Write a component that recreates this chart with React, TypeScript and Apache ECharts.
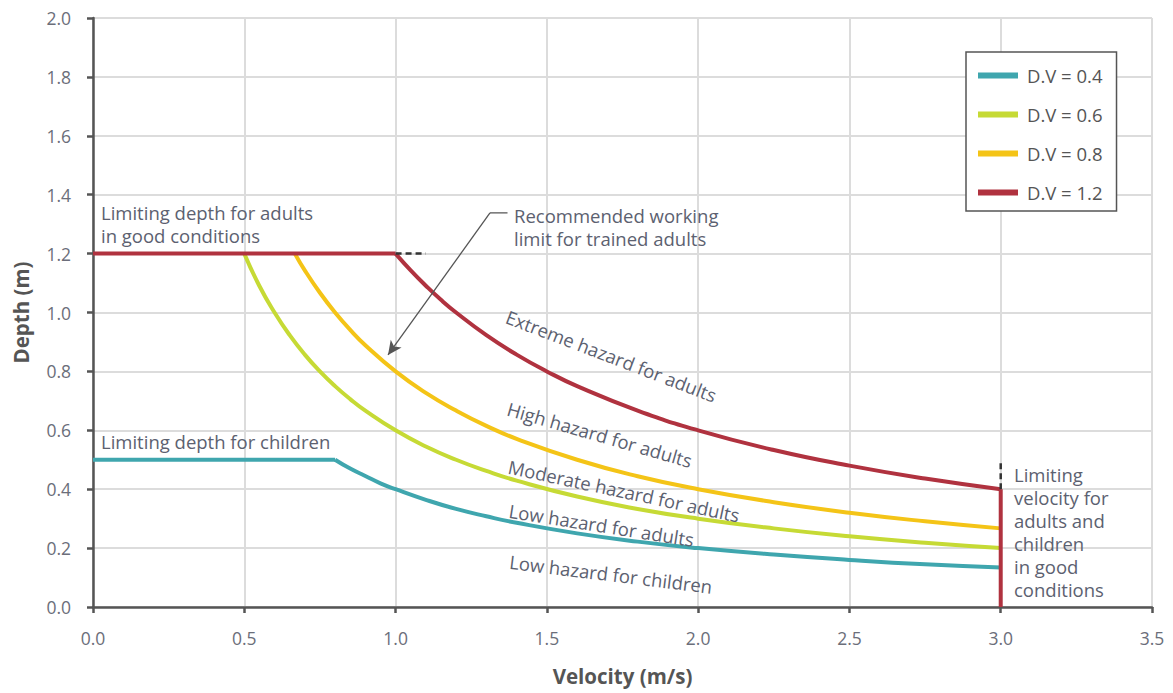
import React, { useEffect, useRef } from "react";
import * as echarts from "echarts";

const xTicks = [0, 0.5, 1.0, 1.5, 2.0, 2.5, 3.0, 3.5];
const yTicks = [0, 0.2, 0.4, 0.6, 0.8, 1.0, 1.2, 1.4, 1.6, 1.8, 2.0];

const seriesNames = ["D.V = 0.4", "D.V = 0.6", "D.V = 0.8", "D.V = 1.2"];
const seriesColors = ["#3fa6ae", "#c6da35", "#f4c417", "#b0323f"];

// [velocity, depth] points
const dv04Flat = [[0, 0.5], [0.8, 0.5]];
const dv04Curve = [
  [0.8, 0.5], [0.85, 0.47], [0.9, 0.445], [0.95, 0.42], [1.0, 0.4], [1.1, 0.364],
  [1.2, 0.333], [1.3, 0.308], [1.4, 0.286], [1.6, 0.25], [1.8, 0.222], [2.0, 0.2],
  [2.25, 0.178], [2.5, 0.16], [2.75, 0.145], [3.0, 0.134],
];
const dv06Curve = [
  [0.5, 1.2], [0.55, 1.09], [0.6, 1.0], [0.65, 0.923], [0.7, 0.857], [0.75, 0.8],
  [0.8, 0.75], [0.85, 0.706], [0.9, 0.667], [1.0, 0.6], [1.1, 0.545], [1.2, 0.5],
  [1.3, 0.462], [1.4, 0.429], [1.6, 0.375], [1.8, 0.333], [2.0, 0.3], [2.25, 0.267],
  [2.5, 0.24], [2.75, 0.218], [3.0, 0.2],
];
const dv08Curve = [
  [0.667, 1.2], [0.7, 1.143], [0.75, 1.067], [0.8, 1.0], [0.85, 0.941], [0.9, 0.889],
  [1.0, 0.8], [1.1, 0.727], [1.2, 0.667], [1.3, 0.615], [1.4, 0.571], [1.6, 0.5],
  [1.8, 0.444], [2.0, 0.4], [2.25, 0.356], [2.5, 0.32], [2.75, 0.291], [3.0, 0.267],
];
const dv12Flat = [[0, 1.2], [1.0, 1.2]];
const dv12Curve = [
  [1.0, 1.2], [1.05, 1.143], [1.1, 1.091], [1.15, 1.043], [1.2, 1.0], [1.3, 0.923],
  [1.4, 0.857], [1.5, 0.8], [1.6, 0.75], [1.8, 0.667], [2.0, 0.6], [2.25, 0.533],
  [2.5, 0.48], [2.75, 0.436], [3.0, 0.4],
];
const dv12Vertical = [[3.0, 0.4], [3.0, 0]];

const dashDepth = [[1.0, 1.2], [1.1, 1.2]];
const dashVelocity = [[3.0, 0.4], [3.0, 0.5]];

const arrowTail = [[1.37, 1.338], [1.312, 1.338]];
const arrowHead = [[1.312, 1.338], [0.975, 0.856]];

const FONT = "Open Sans";
const TXT = "#5c6170";

export default function App() {
  const ref = useRef<HTMLDivElement>(null);

  useEffect(() => {
    if (!ref.current) return;
    const chart = echarts.init(ref.current, undefined, { renderer: "svg" });

    const lineSeries = (name: string, color: string, data: number[][], smooth: boolean) => ({
      type: "line",
      name,
      data,
      smooth,
      showSymbol: false,
      symbol: "none",
      lineStyle: { color, width: 4 },
      itemStyle: { color },
      z: 3,
    });

    const text = (t: string, x: number, y: number, rotDeg = 0) => ({
      type: "text",
      x,
      y,
      rotation: (-rotDeg * Math.PI) / 180,
      style: {
        text: t,
        fill: TXT,
        fontSize: 18.5,
        fontFamily: FONT,
        textVerticalAlign: "top",
        lineHeight: 23,
      },
      z: 10,
    });

    const axisLabel = {
      fontSize: 17.5,
      color: "#6b6e7a",
      margin: 22,
      fontFamily: FONT,
      formatter: (v: number) => v.toFixed(1),
    };

    chart.setOption({
      animation: false,
      textStyle: { fontFamily: FONT },
      grid: { left: 93, right: 21, top: 18, bottom: 86, containLabel: false },
      xAxis: {
        type: "value",
        min: xTicks[0],
        max: xTicks[xTicks.length - 1],
        interval: 0.5,
        name: "Velocity (m/s)",
        nameLocation: "middle",
        nameGap: 58,
        nameTextStyle: { fontSize: 20.5, fontWeight: "bold", color: "#555", fontFamily: FONT },
        axisLine: { lineStyle: { color: "#555", width: 2.5 } },
        axisTick: { show: true, length: 6, lineStyle: { color: "#555", width: 2.5 } },
        axisLabel: { ...axisLabel, margin: 22 },
        splitLine: { show: true, lineStyle: { color: "#dcdcdc", width: 2 } },
      },
      yAxis: {
        type: "value",
        min: yTicks[0],
        max: yTicks[yTicks.length - 1],
        interval: 0.2,
        name: "Depth (m)",
        nameLocation: "middle",
        nameGap: 62,
        nameTextStyle: { fontSize: 20.5, fontWeight: "bold", color: "#555", fontFamily: FONT },
        axisLine: { show: true, lineStyle: { color: "#555", width: 2.5 } },
        axisTick: { show: true, length: 6, lineStyle: { color: "#555", width: 2.5 } },
        axisLabel: axisLabel,
        splitLine: { show: true, lineStyle: { color: "#dcdcdc", width: 2 } },
      },
      legend: {
        data: seriesNames,
        orient: "vertical",
        left: 966,
        top: 52,
        itemWidth: 40,
        itemHeight: 6,
        itemGap: 20,
        icon: "rect",
        padding: [14, 14, 9, 12],
        borderColor: "#555",
        borderWidth: 1.5,
        backgroundColor: "#fff",
        textStyle: { fontSize: 18.5, color: "#555", fontFamily: FONT, padding: [0, 0, 0, 4] },
      },
      series: [
        lineSeries(seriesNames[0], seriesColors[0], dv04Flat, false),
        lineSeries(seriesNames[0], seriesColors[0], dv04Curve, true),
        lineSeries(seriesNames[1], seriesColors[1], dv06Curve, true),
        lineSeries(seriesNames[2], seriesColors[2], dv08Curve, true),
        lineSeries(seriesNames[3], seriesColors[3], dv12Flat, false),
        lineSeries(seriesNames[3], seriesColors[3], dv12Curve, true),
        lineSeries(seriesNames[3], seriesColors[3], dv12Vertical, false),
        {
          type: "line",
          name: "dash1",
          data: dashDepth,
          showSymbol: false,
          symbol: "none",
          lineStyle: { color: "#333", width: 2.5, type: [6, 4] },
          z: 4,
        },
        {
          type: "line",
          name: "dash2",
          data: dashVelocity,
          showSymbol: false,
          symbol: "none",
          lineStyle: { color: "#333", width: 2.5, type: [6, 4] },
          z: 4,
        },
        {
          type: "line",
          name: "arrow",
          data: arrowTail,
          showSymbol: false,
          symbol: "none",
          lineStyle: { color: "#555", width: 1.3 },
          z: 5,
          markLine: {
            silent: true,
            symbol: ["none", "arrow"],
            symbolSize: [10, 14],
            label: { show: false },
            lineStyle: { color: "#555", width: 1.3, type: "solid" },
            data: [[{ coord: arrowHead[0] }, { coord: arrowHead[1] }]],
          },
        },
      ],
      graphic: [
        text("Limiting depth for adults\nin good conditions", 101, 201),
        text("Recommended working\nlimit for trained adults", 514, 204),
        text("Limiting depth for children", 101, 430),
        text("Limiting\nvelocity for\nadults and\nchildren\nin good\nconditions", 1014, 463),
        text("Extreme hazard for adults", 511, 305, 21),
        text("High hazard for adults", 511, 397, 16),
        text("Moderate hazard for adults", 511, 455, 12),
        text("Low hazard for adults", 511, 499, 9),
        text("Low hazard for children", 511, 550, 7),
      ],
    });

    return () => chart.dispose();
  }, []);

  return <div ref={ref} style={{ width: 1173, height: 693, marginLeft: -8, marginTop: -8 }} />;
}
